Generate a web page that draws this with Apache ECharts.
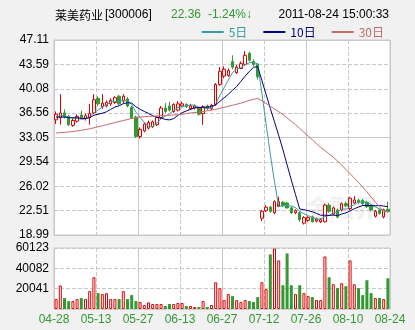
<!DOCTYPE html>
<html>
<head>
<meta charset="utf-8">
<script src="https://cdn.jsdelivr.net/npm/echarts@6.0.0/dist/echarts.min.js"></script>
<style>html,body{margin:0;padding:0;background:#f1f1f1;}#c{width:415px;height:330px;}</style>
</head>
<body>
<div id="c"></div>
<script>
// ---- header text ----
const stockName = '莱美药业';
const stockCode = '[300006]';
const lastPrice = '22.36';
const changePct = '-1.24%↓';
const timestamp = '2011-08-24 15:00:33';
const maNames = ['5日', '10日', '30日'];

// ---- categories & tick labels ----
const dates = [
'04-28','04-29','05-03','05-04','05-05','05-06','05-09','05-10','05-11','05-12',
'05-13','05-16','05-17','05-18','05-19','05-20','05-23','05-24','05-25','05-26',
'05-27','05-30','05-31','06-01','06-02','06-03','06-07','06-08','06-09','06-10',
'06-13','06-14','06-15','06-16','06-17','06-20','06-21','06-22','06-23','06-24',
'06-27','06-28','06-29','06-30','07-01','07-04','07-05','07-06','07-07','07-08',
'07-12','07-13','07-14','07-15','07-18','07-19','07-20','07-21','07-22','07-25',
'07-26','07-27','07-28','07-29','08-02','08-03','08-04','08-05','08-08','08-09',
'08-10','08-11','08-12','08-16','08-17','08-18','08-19','08-22','08-23','08-24'];
const dateTickLabels = ['04-28','05-13','05-27','06-13','06-27','07-12','07-26','08-10','08-24'];
const priceTickLabels = ['18.99','22.51','26.02','29.54','33.05','36.56','40.08','43.59','47.11'];
const volTickLabels = ['', '20041', '40082', '60123'];

// ---- series values ----
const open = [35.6,35.9,36.6,36.1,34.8,35.4,36.3,35.8,35.9,36.6,
38.7,37.5,37.6,37.9,38.1,39.0,38.3,38.6,37.4,36.0,
33.2,34.0,34.4,34.6,34.9,35.9,37.3,37.6,36.8,37.0,
37.6,37.8,37.2,37.3,37.3,36.5,37.6,37.2,37.8,40.7,
41.9,42.0,44.0,42.4,43.0,43.6,45.2,44.0,43.6,21.4,
22.5,23.0,22.2,23.1,23.7,23.6,22.9,22.2,22.2,20.7,
21.1,21.6,21.0,20.9,20.9,23.3,22.0,22.6,22.6,23.5,
22.8,23.6,24.0,24.0,23.7,23.2,21.7,22.6,21.6,22.7];
const close = [36.4,36.6,36.0,34.9,35.5,36.1,35.9,36.2,36.5,38.5,
37.9,38.0,38.1,38.4,38.8,37.9,39.0,37.6,35.9,33.2,
34.2,35.0,35.2,35.3,36.0,37.3,36.8,37.0,37.8,37.9,
37.9,37.5,37.6,37.6,36.4,37.5,37.2,37.7,40.7,42.6,
42.9,42.7,43.2,43.2,43.7,44.9,44.2,43.6,41.8,22.4,
23.0,22.4,23.8,23.8,23.2,22.9,22.2,22.5,21.2,21.5,
21.5,20.9,21.3,21.2,23.3,22.4,22.9,21.6,23.5,23.2,
24.3,24.05,23.7,23.5,23.1,22.6,22.4,22.1,22.64,22.36];
const low = [35.0,34.9,35.8,34.7,34.6,35.2,35.7,35.5,34.9,36.4,
37.6,37.2,37.4,37.6,37.9,37.7,38.0,37.4,35.7,33.0,
32.9,33.8,34.2,34.4,34.7,35.7,36.6,36.8,36.6,36.8,
37.4,37.3,37.0,37.1,36.2,34.9,37.0,37.0,37.6,40.5,
41.6,41.8,42.9,42.2,42.9,43.4,44.0,43.3,41.4,21.0,
22.3,22.2,22.0,23.0,23.0,22.8,22.0,22.0,20.9,20.5,
20.9,20.8,20.8,20.7,20.8,22.2,21.8,21.4,22.4,23.0,
22.6,23.5,23.5,23.3,22.9,22.4,21.5,21.9,21.4,22.2];
const high = [36.8,39.3,37.1,36.3,35.8,36.4,36.9,36.5,37.9,39.3,
39.0,39.3,38.4,38.7,39.0,39.2,39.3,38.9,37.6,36.2,
34.5,35.2,35.5,35.5,36.1,37.6,38.0,38.2,38.0,38.3,
38.2,38.0,37.9,37.8,37.5,37.7,37.8,37.9,40.9,43.2,
43.3,43.0,44.9,43.5,44.0,45.5,45.4,44.3,43.8,22.6,
23.3,23.2,24.0,24.5,23.9,23.8,23.1,22.7,22.4,21.7,
21.7,21.8,21.5,21.4,23.5,23.6,23.1,22.8,23.7,23.8,
24.5,24.6,24.2,24.2,23.9,23.4,22.6,22.8,22.8,23.8];
const volume = [9780,23140,10760,7820,7820,9780,10760,9780,17600,31300,
15650,14670,15650,9780,9780,9780,17600,9780,13700,7820,
6850,3900,6520,4900,4900,4900,2930,4900,4900,5870,
5870,2930,2930,1960,1960,7820,1960,3900,26400,20500,
8800,14670,12700,8800,6850,8800,7820,6850,11740,26400,
19560,53800,59650,47900,23470,54770,23470,14670,23470,15650,
12700,11740,8800,8800,51800,31300,24450,20540,25420,22500,
47900,24450,20540,13700,28360,15650,10760,10760,9780,30300];
const ma5 = [36.0,36.2,36.2,36.0,35.88,35.82,35.68,35.72,36.04,36.64,
37.0,37.42,37.8,38.18,38.24,38.24,38.44,38.34,37.84,36.72,
35.98,35.18,34.7,34.58,35.14,35.76,36.12,36.48,36.98,37.36,
37.48,37.62,37.74,37.7,37.4,37.32,37.26,37.28,37.9,39.14,
40.22,41.32,42.42,42.92,43.14,43.54,43.84,43.92,43.64,39.38,
35.0,30.64,26.68,23.08,23.24,23.22,23.18,22.92,22.4,22.06,
21.78,21.52,21.28,21.28,21.64,21.82,22.22,22.28,22.74,22.72,
23.1,23.33,23.75,23.75,23.73,23.39,23.06,22.74,22.57,22.42];
const ma10 = [36.0,36.0,36.0,35.9,35.9,35.9,35.8,35.8,35.9,36.26,
36.41,36.55,36.76,37.11,37.44,37.62,37.93,38.07,38.01,37.48,
37.11,36.81,36.52,36.21,35.93,35.87,35.65,35.59,35.78,36.25,
36.62,36.87,37.11,37.34,37.38,37.4,37.44,37.51,37.8,38.27,
38.77,39.29,39.85,40.41,41.14,41.88,42.58,43.17,43.28,41.26,
39.27,37.24,35.3,33.36,31.31,29.11,26.91,24.8,22.74,22.65,
22.5,22.35,22.1,21.84,21.85,21.8,21.87,21.78,22.01,22.18,
22.46,22.78,23.02,23.25,23.23,23.25,23.2,23.25,23.16,23.08];
const ma30 = [33.7,33.75,33.8,33.85,33.9,34.0,34.1,34.2,34.3,34.45,
34.6,34.75,34.9,35.05,35.2,35.35,35.5,35.65,35.8,35.9,
36.0,36.05,36.1,36.1,36.15,36.2,36.2,36.25,36.3,36.35,
36.4,36.5,36.6,36.65,36.7,36.8,36.9,37.0,37.1,37.25,
37.4,37.55,37.7,37.85,38.0,38.2,38.4,38.55,38.7,38.34,
37.97,37.55,37.17,36.78,36.36,35.88,35.39,34.91,34.35,33.81,
33.26,32.71,32.17,31.62,31.18,30.68,30.2,29.67,29.09,28.45,
27.83,27.21,26.56,25.9,25.22,24.47,23.75,23.03,22.39,22.39];

// ---- styles ----
const UP = '#e00000', DOWN = '#339933';
const C5 = '#3a9c9c', C10 = '#000080', C30 = '#c86a6a';
const GRID_C = '#c8c8c8';
const FONT = '"Liberation Sans", Arial, sans-serif';
const CJK = '"Noto Sans CJK SC", sans-serif';

const candleData = open.map((o, i) => [o, close[i], low[i], high[i]]);
const volData = volume.map((v, i) => {
  const up = close[i] >= open[i];
  return { value: v, itemStyle: up ? { color: '#fff', borderColor: UP, borderWidth: 1 } : { color: DOWN, borderColor: DOWN, borderWidth: 0 } };
});

const pMin = Number(priceTickLabels[0]), pMax = Number(priceTickLabels[priceTickLabels.length - 1]);
const pInt = (pMax - pMin) / (priceTickLabels.length - 1);
const vMax = Number(volTickLabels[volTickLabels.length - 1]);
const vInt = vMax / (volTickLabels.length - 1);
const nCat = dates.length;
const catStep = nCat / (dateTickLabels.length - 1);

function splitAxisX(gridIndex, interval, type, showLabel) {
  return {
    type: 'value', gridIndex, min: 0, max: nCat, interval,
    position: showLabel ? 'bottom' : 'top',
    axisLine: { show: false }, axisTick: { show: false },
    splitLine: { show: true, lineStyle: { color: GRID_C, type, width: 1 } },
    axisLabel: showLabel ? {
      show: true, color: DOWN, fontFamily: FONT, fontSize: 12, margin: 5,
      showMinLabel: true, showMaxLabel: true,
      formatter: v => dateTickLabels[Math.round(v / catStep)]
    } : { show: false }
  };
}
function catAxis(gridIndex) {
  return { type: 'category', gridIndex, position: 'top', data: dates, boundaryGap: true, show: false };
}

const chart = echarts.init(document.getElementById('c'), null, { renderer: 'canvas' });
chart.setOption({
  animation: false,
  backgroundColor: '#f1f1f1',
  graphic: [
    { type: 'text', left: 55, top: 9, style: { text: stockName, fill: '#000', font: '12px ' + CJK } },
    { type: 'text', left: 105, top: 9, style: { text: stockCode, fill: '#000', font: '12px ' + FONT } },
    { type: 'text', left: 171, top: 9, style: { text: lastPrice, fill: DOWN, font: '12px ' + FONT } },
    { type: 'text', left: 208, top: 9, style: { text: changePct, fill: DOWN, font: '12px ' + FONT } },
    { type: 'text', right: 26, top: 9, style: { text: timestamp, fill: '#000', font: '12px ' + FONT } },
    { type: 'text', left: 306, top: 196, z: 1, style: { text: '金融界', fill: 'rgba(170,170,170,0.18)', font: 'bold 24px ' + CJK } }
  ],
  legend: {
    top: 21, right: 26, icon: 'rect', itemWidth: 22, itemHeight: 2, itemGap: 16, selectedMode: false,
    textStyle: { fontSize: 12, fontFamily: CJK },
    data: [
      { name: maNames[0], textStyle: { color: C5 } },
      { name: maNames[1], textStyle: { color: C10 } },
      { name: maNames[2], textStyle: { color: C30 } }
    ]
  },
  grid: [
    { left: 54, right: 25, top: 40, height: 195, show: true, backgroundColor: '#fff', borderColor: GRID_C, borderWidth: 1, outerBoundsMode: 'none', containLabel: false },
    { left: 54, right: 25, top: 248, height: 61, show: true, backgroundColor: '#fff', borderColor: GRID_C, borderWidth: 1, outerBoundsMode: 'none', containLabel: false }
  ],
  xAxis: [
    catAxis(0),
    splitAxisX(0, catStep, 'dashed', false),
    splitAxisX(0, catStep * 2, 'solid', false),
    catAxis(1),
    splitAxisX(1, catStep, 'dashed', true),
    splitAxisX(1, catStep * 2, 'solid', false)
  ],
  yAxis: [
    {
      type: 'value', gridIndex: 0, min: pMin, max: pMax, interval: pInt, position: 'left',
      axisLine: { show: false }, axisTick: { show: false },
      splitLine: { show: true, lineStyle: { color: GRID_C, type: 'dashed' } },
      axisLabel: { color: '#000', fontFamily: FONT, fontSize: 12, margin: 5, showMinLabel: true, showMaxLabel: true,
        formatter: v => priceTickLabels[Math.round((v - pMin) / pInt)] }
    },
    {
      type: 'value', gridIndex: 0, min: pMin, max: pMax, interval: pInt * 4, position: 'right',
      axisLine: { show: false }, axisTick: { show: false }, axisLabel: { show: false },
      splitLine: { show: true, lineStyle: { color: GRID_C, type: 'solid' } }
    },
    {
      type: 'value', gridIndex: 1, min: 0, max: vMax, interval: vInt, position: 'left',
      axisLine: { show: false }, axisTick: { show: false },
      splitLine: { show: true, lineStyle: { color: GRID_C, type: 'dashed' } },
      axisLabel: { color: '#000', fontFamily: FONT, fontSize: 12, margin: 5, showMaxLabel: true,
        formatter: v => volTickLabels[Math.round(v / vInt)] }
    }
  ],
  series: [
    {
      type: 'candlestick', name: 'K', xAxisIndex: 0, yAxisIndex: 0, data: candleData, barWidth: 3, silent: true,
      itemStyle: { color: '#fff', color0: DOWN, borderColor: UP, borderColor0: DOWN, borderWidth: 1 }
    },
    { type: 'line', name: maNames[0], xAxisIndex: 0, yAxisIndex: 0, data: ma5, symbol: 'none', silent: true, color: C5, lineStyle: { color: C5, width: 1 } },
    { type: 'line', name: maNames[1], xAxisIndex: 0, yAxisIndex: 0, data: ma10, symbol: 'none', silent: true, color: C10, lineStyle: { color: C10, width: 1 } },
    { type: 'line', name: maNames[2], xAxisIndex: 0, yAxisIndex: 0, data: ma30, symbol: 'none', silent: true, color: C30, lineStyle: { color: C30, width: 1 } },
    { type: 'bar', name: 'VOL', xAxisIndex: 3, yAxisIndex: 2, data: volData, barWidth: 3, silent: true }
  ]
});
</script>
</body>
</html>
